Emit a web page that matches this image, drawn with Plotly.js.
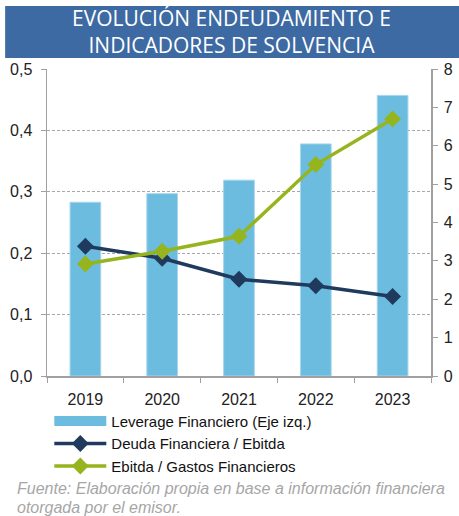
<!DOCTYPE html>
<html>
<head>
<meta charset="utf-8">
<script src="https://cdn.plot.ly/plotly-3.0.1.min.js"></script>
<style>
html,body{margin:0;padding:0;background:#fff;}
#chart{width:459px;height:516px;}
</style>
</head>
<body>
<div id="chart"></div>
<script>
const years = ['2019', '2020', '2021', '2022', '2023'];
const leverage = [0.283, 0.297, 0.319, 0.378, 0.457];
const deudaEbitda = [3.38, 3.07, 2.52, 2.35, 2.07];
const ebitdaGastos = [2.92, 3.25, 3.64, 5.51, 6.70];

const seriesNames = ['Leverage Financiero (Eje izq.)', 'Deuda Financiera / Ebitda', 'Ebitda / Gastos Financieros'];
const colors = {bar: '#6BBCDE', deuda: '#1F3A5C', ebitda: '#96B41E'};

const traces = [
  {
    type: 'bar', x: years, y: leverage, name: seriesNames[0], showlegend: false,
    marker: {color: colors.bar, line: {color: '#A8D6EC', width: 1}}, yaxis: 'y', hoverinfo: 'x+y'
  },
  {
    type: 'scatter', mode: 'lines', x: [null], y: [null], name: seriesNames[0],
    line: {color: colors.bar, width: 11}, yaxis: 'y', legendrank: 1
  },
  {
    type: 'scatter', mode: 'lines+markers', x: years, y: deudaEbitda, name: seriesNames[1], yaxis: 'y2',
    line: {color: colors.deuda, width: 3.5}, marker: {symbol: 'diamond', size: 13, color: colors.deuda}, legendrank: 2
  },
  {
    type: 'scatter', mode: 'lines+markers', x: years, y: ebitdaGastos, name: seriesNames[2], yaxis: 'y2',
    line: {color: colors.ebitda, width: 3.5}, marker: {symbol: 'diamond', size: 13, color: colors.ebitda}, legendrank: 3
  }
];

const axisColor = '#A0A0A0';
const tickFont = {family: 'Liberation Sans, Arial, sans-serif', size: 16, color: '#222'};

const layout = {
  width: 459, height: 516,
  margin: {l: 47, r: 28, t: 69, b: 140, pad: 0},
  paper_bgcolor: '#fff', plot_bgcolor: '#fff',
  separators: ',.',
  bargap: 0.6,
  showlegend: true,
  legend: {
    x: 0.006, xanchor: 'left', y: -0.0935, yanchor: 'top',
    orientation: 'v', tracegroupgap: 0, itemwidth: 52,
    font: {family: 'Liberation Sans, Arial, sans-serif', size: 15, color: '#111'},
    bgcolor: 'rgba(0,0,0,0)', itemclick: false
  },
  xaxis: {
    type: 'category', showline: true, linecolor: axisColor, linewidth: 1.5,
    ticks: 'outside', tickson: 'boundaries', ticklen: 5, tickcolor: axisColor,
    tickfont: tickFont, showgrid: false, zeroline: false, fixedrange: true,
    ticklabelstandoff: 8
  },
  yaxis: {
    range: [0, 0.5], dtick: 0.1, tickformat: '.1f',
    showline: true, linecolor: axisColor, linewidth: 1.5,
    ticks: 'outside', ticklen: 5, tickcolor: axisColor,
    showgrid: true, gridcolor: '#A8A8A8', griddash: '3px,2px', gridwidth: 1,
    zeroline: false, tickfont: tickFont, fixedrange: true, ticklabelstandoff: 5
  },
  yaxis2: {
    overlaying: 'y', side: 'right', range: [0, 8], dtick: 1,
    showline: true, linecolor: axisColor, linewidth: 1.5,
    ticks: 'outside', ticklen: 5, tickcolor: axisColor,
    showgrid: false, zeroline: false, tickfont: tickFont, fixedrange: true, ticklabelstandoff: 3
  },
  shapes: [
    {type: 'rect', xref: 'paper', yref: 'paper', x0: -0.109, x1: 1.075, y0: 1.0358, y1: 1.2055,
     fillcolor: '#3D6AA3', line: {width: 0}, layer: 'above'}
  ],
  annotations: [
    {text: 'EVOLUCIÓN ENDEUDAMIENTO E<br>INDICADORES DE SOLVENCIA', xref: 'paper', yref: 'paper',
     x: 0.48, y: 1.121, xanchor: 'center', yanchor: 'middle', showarrow: false,
     font: {family: 'Open Sans, Noto Sans, sans-serif', size: 21, color: '#fff'}},
    {text: '<i>Fuente: Elaboración propia en base a información financiera</i>', xref: 'paper', yref: 'paper',
     x: -0.083, y: -0.365, xanchor: 'left', yanchor: 'middle', showarrow: false,
     font: {family: 'Liberation Sans, Arial, sans-serif', size: 16, color: '#A6A6A6'}},
    {text: '<i>otorgada por el emisor.</i>', xref: 'paper', yref: 'paper',
     x: -0.083, y: -0.427, xanchor: 'left', yanchor: 'middle', showarrow: false,
     font: {family: 'Liberation Sans, Arial, sans-serif', size: 16, color: '#A6A6A6'}}
  ]
};

Plotly.newPlot('chart', traces, layout, {displayModeBar: false, staticPlot: true});
</script>
</body>
</html>
